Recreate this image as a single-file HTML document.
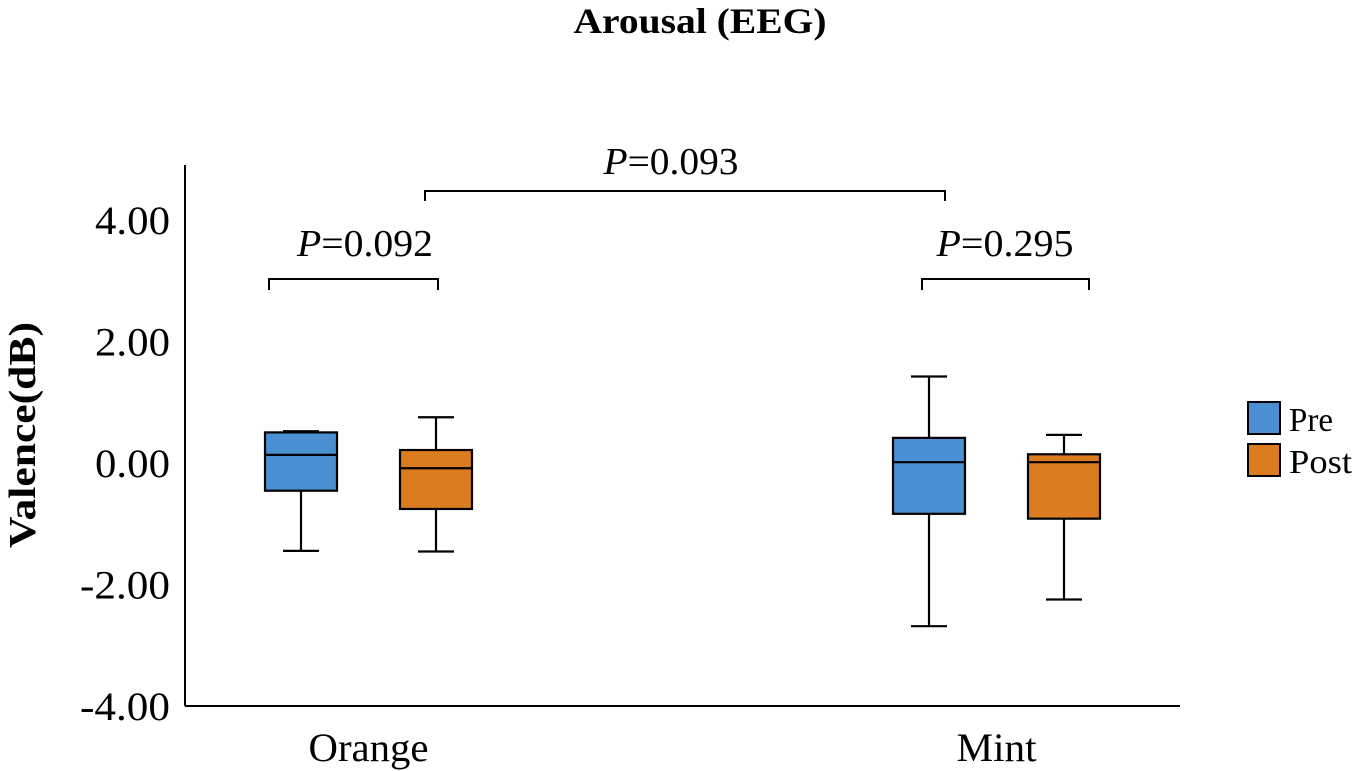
<!DOCTYPE html>
<html><head><meta charset="utf-8"><style>
html,body{margin:0;padding:0;background:#fff}
svg{display:block;font-family:"Liberation Serif",serif}
</style></head><body>
<svg id="chart" width="1355" height="771" viewBox="0 0 1355 771">
<text x="700" y="33" text-anchor="middle" font-size="36" font-weight="bold" textLength="253" lengthAdjust="spacingAndGlyphs">Arousal (EEG)</text>
<text transform="translate(35,435) rotate(-90)" text-anchor="middle" font-size="38" font-weight="bold" textLength="226" lengthAdjust="spacingAndGlyphs">Valence(dB)</text>
<line x1="185" y1="165" x2="185" y2="706" stroke="#000" stroke-width="2"/>
<line x1="185" y1="706" x2="1180" y2="706" stroke="#000" stroke-width="2"/>
<g id="yticks"></g>
<g id="boxes"></g>
<g id="xlabels"></g>
<g>
<path d="M269 290 V279 H438 V290" fill="none" stroke="#000" stroke-width="2"/>
<text x="365" y="256" text-anchor="middle" font-size="38" textLength="136" lengthAdjust="spacingAndGlyphs"><tspan font-style="italic">P</tspan>=0.092</text>
</g>
<g>
<path d="M425 201 V191 H945 V201" fill="none" stroke="#000" stroke-width="2"/>
<text x="671" y="174" text-anchor="middle" font-size="38" textLength="135" lengthAdjust="spacingAndGlyphs"><tspan font-style="italic">P</tspan>=0.093</text>
</g>
<g>
<path d="M922 290 V279 H1089 V290" fill="none" stroke="#000" stroke-width="2"/>
<text x="1005" y="256" text-anchor="middle" font-size="38" textLength="137" lengthAdjust="spacingAndGlyphs"><tspan font-style="italic">P</tspan>=0.295</text>
</g>
<g>
<rect x="1248" y="402" width="32" height="32" fill="#4a8fd2" stroke="#000" stroke-width="2"/>
<text x="1289" y="431" font-size="34" textLength="44" lengthAdjust="spacingAndGlyphs">Pre</text>
<rect x="1248" y="444" width="32" height="32" fill="#dc7c20" stroke="#000" stroke-width="2"/>
<text x="1289" y="473" font-size="34" textLength="63" lengthAdjust="spacingAndGlyphs">Post</text>
</g>
</svg>
<script>
const categories = ["Orange", "Mint"];
const series = ["Pre", "Post"];
const whiskerHigh = [[0.54, 0.77], [1.44, 0.48]];
const q3 = [[0.52, 0.23], [0.43, 0.16]];
const median = [[0.15, -0.07], [0.03, 0.03]];
const q1 = [[-0.44, -0.74], [-0.82, -0.90]];
const whiskerLow = [[-1.43, -1.44], [-2.67, -2.23]];
const yTicks = [4, 2, 0, -2, -4];
const yTickLabels = ["4.00", "2.00", "0.00", "-2.00", "-4.00"];

const NS = "http://www.w3.org/2000/svg";
function y(v){ return 464 - v * 60.75; }
const groupCenter = [368.5, 996.5];
const offset = [-67.5, 67.5];
const colors = ["#4a8fd2", "#dc7c20"];
function mk(tag, attrs, parent){ const e=document.createElementNS(NS,tag); for(const k in attrs) e.setAttribute(k, attrs[k]); parent.appendChild(e); return e; }

const yt = document.getElementById("yticks");
yTicks.forEach((t,i)=>{
  const tx = mk("text",{x:170,y:y(t)+13,"text-anchor":"end","font-size":40},yt);
  tx.textContent = yTickLabels[i];
  tx.setAttribute("textLength", yTickLabels[i].length>4 ? 90 : 75);
  tx.setAttribute("lengthAdjust","spacingAndGlyphs");
  
  
});

const bx = document.getElementById("boxes");
categories.forEach((c,ci)=>{
  series.forEach((s,si)=>{
    const cx = groupCenter[ci] + offset[si];
    const g = mk("g",{},bx);
    
    
    const st = {stroke:"#000","stroke-width":2.2};
    mk("line",Object.assign({x1:cx,x2:cx,y1:y(whiskerHigh[ci][si]),y2:y(q3[ci][si])},st),g);
    mk("line",Object.assign({x1:cx,x2:cx,y1:y(q1[ci][si]),y2:y(whiskerLow[ci][si])},st),g);
    mk("line",Object.assign({x1:cx-18,x2:cx+18,y1:y(whiskerHigh[ci][si]),y2:y(whiskerHigh[ci][si])},st),g);
    mk("line",Object.assign({x1:cx-18,x2:cx+18,y1:y(whiskerLow[ci][si]),y2:y(whiskerLow[ci][si])},st),g);
    mk("rect",Object.assign({x:cx-36,width:72,y:y(q3[ci][si]),height:y(q1[ci][si])-y(q3[ci][si]),fill:colors[si]},st),g);
    mk("line",Object.assign({x1:cx-36,x2:cx+36,y1:y(median[ci][si]),y2:y(median[ci][si])},st),g);
  });
  const lb = mk("text",{x:groupCenter[ci],y:761,"text-anchor":"middle","font-size":40},document.getElementById("xlabels"));
  lb.textContent = c;
  lb.setAttribute("textLength", c.length*20);
  lb.setAttribute("lengthAdjust","spacingAndGlyphs");
  
  
});
</script>
</body></html>
